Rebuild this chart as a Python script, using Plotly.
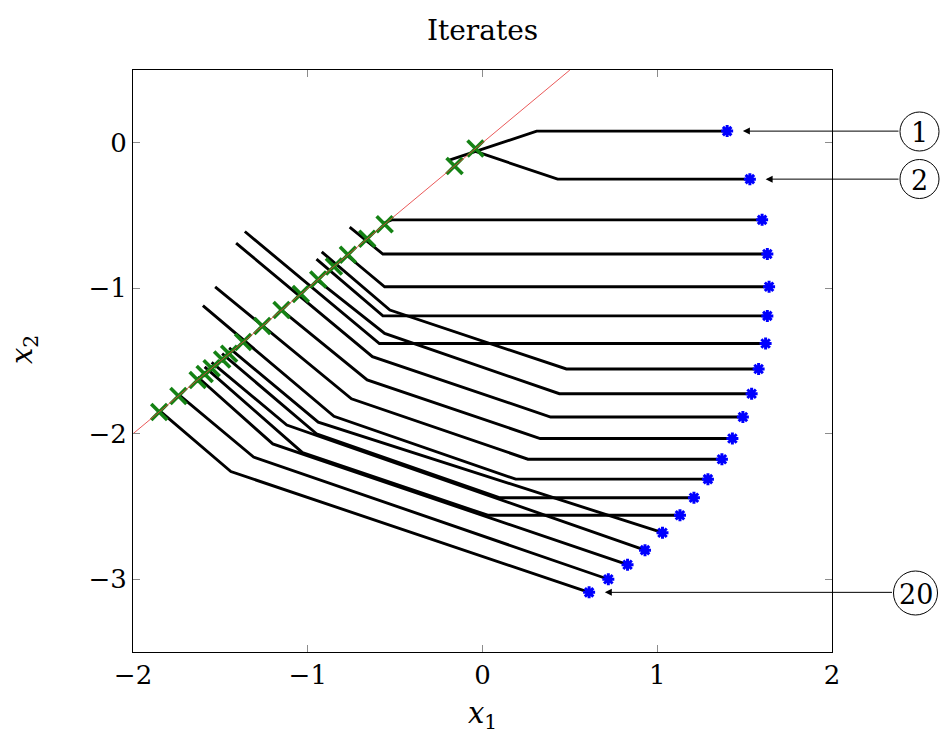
import plotly.graph_objects as go

# Each path: vertices from its starting point to the final iterate (last vertex)
path_x = [
    [-0.19, 0.31, 1.40],
    [-0.04, 0.43, 1.53],
    [-0.56, -0.52, 1.60],
    [-0.76, -0.57, 1.63],
    [-0.77, -0.56, 1.64],
    [-0.95, -0.57, 1.63],
    [-1.36, -0.59, 1.62],
    [-0.92, -0.53, 0.48, 1.58],
    [-0.94, -0.56, 0.44, 1.54],
    [-1.41, -0.63, 0.39, 1.49],
    [-1.15, -0.66, 0.33, 1.43],
    [-1.53, -0.75, 0.26, 1.37],
    [-1.60, -0.85, 0.19, 1.29],
    [-1.49, -0.95, 0.10, 1.21],
    [-1.59, -1.03, 0.03, 1.13],
    [-1.45, -0.94, 1.03],
    [-1.55, -1.12, 0.93],
    [-1.63, -1.20, 0.83],
    [-1.74, -1.31, 0.72],
    [-1.85, -1.44, 0.61],
]
path_y = [
    [-0.12, 0.08, 0.08],
    [-0.06, -0.25, -0.25],
    [-0.55, -0.53, -0.53],
    [-0.58, -0.765, -0.765],
    [-0.78, -0.99, -0.99],
    [-0.80, -1.19, -1.19],
    [-0.61, -1.38, -1.38],
    [-0.75, -1.15, -1.555, -1.555],
    [-0.95, -1.31, -1.725, -1.725],
    [-0.69, -1.47, -1.885, -1.885],
    [-1.15, -1.63, -2.033, -2.033],
    [-0.99, -1.76, -2.175, -2.175],
    [-1.12, -1.88, -2.312, -2.312],
    [-1.45, -2.00, -2.44, -2.44],
    [-1.54, -2.13, -2.56, -2.56],
    [-1.41, -1.92, -2.68],
    [-1.51, -1.94, -2.80],
    [-1.61, -2.07, -2.90],
    [-1.73, -2.16, -3.00],
    [-1.84, -2.26, -3.09],
]

# Points on the line x2 = x1 hit by the paths
cross_x = [-0.04, -0.16, -0.56, -0.66, -0.77, -0.85, -0.94, -1.04, -1.15,
           -1.26, -1.37, -1.45, -1.49, -1.55, -1.59, -1.63, -1.74, -1.85]

# The line x2 = x1 across the visible window
diag_x = [-2.0, 0.5]

# Circled labels: path number and its index
labels = ["1", "2", "20"]
label_idx = [0, 1, 19]

x_ticks = [-2, -1, 0, 1, 2]
y_ticks = [0, -1, -2, -3]


def tick_text(v):
    return str(v).replace("-", "\u2212")


FONT = "DejaVu Serif"
L, R, T, B = 133, 113, 70, 91
W, H = 945, 743
PW, PH = W - L - R, H - T - B


def paper_x(px):
    return (px - L) / PW


def paper_y(py):
    return (H - B - py) / PH


fig = go.Figure()

for xs, ys in zip(path_x, path_y):
    fig.add_trace(go.Scatter(
        x=xs, y=ys, mode="lines",
        line=dict(color="black", width=2.9),
        hoverinfo="skip", showlegend=False,
    ))

fig.add_trace(go.Scatter(
    x=cross_x, y=cross_x, mode="markers",
    marker=dict(symbol="x-thin", size=16, color="rgb(20,130,20)",
                line=dict(color="rgb(20,130,20)", width=3.6)),
    showlegend=False,
))

fig.add_trace(go.Scatter(
    x=diag_x, y=diag_x, mode="lines",
    line=dict(color="rgba(230,60,60,0.85)", width=1),
    showlegend=False,
))

end_x = [xs[-1] for xs in path_x]
end_y = [ys[-1] for ys in path_y]
fig.add_trace(go.Scatter(
    x=end_x, y=end_y, mode="markers",
    marker=dict(symbol="asterisk-open", size=10, color="rgb(0,0,255)",
                line=dict(color="rgb(0,0,255)", width=3)),
    showlegend=False,
))

# circled labels to the right of the axes, with arrows to the iterates
circle_px = {"1": (919.5, 131.5, 19.5), "2": (919.5, 179, 19.5),
             "20": (915.5, 593, 22)}
for lab, i in zip(labels, label_idx):
    cx, cy, r = circle_px[lab]
    fig.add_shape(type="circle", xref="paper", yref="paper",
                  x0=paper_x(cx - r), x1=paper_x(cx + r),
                  y0=paper_y(cy + r), y1=paper_y(cy - r),
                  line=dict(color="black", width=1))
    fig.add_annotation(xref="paper", yref="paper",
                       x=paper_x(cx), y=paper_y(cy + 1), text=lab,
                       showarrow=False, xanchor="center", yanchor="middle",
                       font=dict(family=FONT, size=27, color="black"))
    tail_x = (cx - r - 482.5) / 174.75
    fig.add_annotation(x=path_x[i][-1] + 0.09, y=path_y[i][-1],
                       ax=tail_x, ay=path_y[i][-1], axref="x", ayref="y",
                       text="", showarrow=True, arrowhead=2, arrowsize=1.4,
                       arrowwidth=1, arrowcolor="black")

# axis titles
fig.add_annotation(xref="paper", yref="paper", x=paper_x(482.5),
                   y=paper_y(715), text="<i>x</i><sub>1</sub>",
                   showarrow=False, xanchor="center", yanchor="middle",
                   font=dict(family=FONT, size=29, color="black"))
fig.add_annotation(xref="paper", yref="paper", x=paper_x(24),
                   y=paper_y(350), text="<i>x</i><sub>2</sub>",
                   textangle=-90, showarrow=False,
                   xanchor="center", yanchor="middle",
                   font=dict(family=FONT, size=29, color="black"))

axis_common = dict(
    showline=True, linecolor="black", linewidth=1, mirror="allticks",
    ticks="inside", ticklen=7, tickwidth=1, tickcolor="rgb(140,140,140)",
    showgrid=False, zeroline=False,
    tickfont=dict(family=FONT, size=26, color="black"),
)

fig.update_layout(
    width=W, height=H,
    margin=dict(l=L, r=R, t=T, b=B),
    paper_bgcolor="white", plot_bgcolor="white",
    title=dict(text="Iterates", x=482.5 / W, xanchor="center",
               y=1 - 30 / H, yanchor="middle",
               font=dict(family=FONT, size=28, color="black")),
    xaxis=dict(range=[-2, 2], tickvals=x_ticks,
               ticktext=[tick_text(v) for v in x_ticks], **axis_common),
    yaxis=dict(range=[-3.5, 0.5], tickvals=y_ticks,
               ticktext=[tick_text(v) for v in y_ticks], **axis_common),
)

fig.write_html("out.html")
